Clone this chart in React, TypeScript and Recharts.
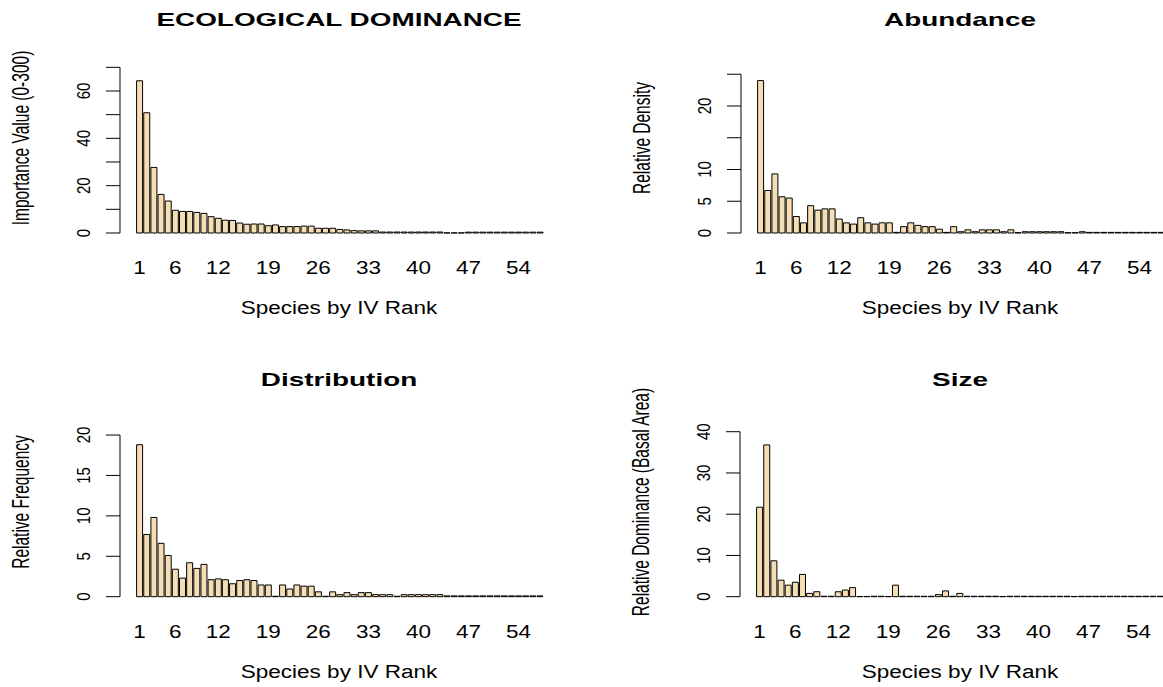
import React from "react";
import { BarChart, Bar, XAxis, YAxis } from "recharts";

// species rank, 1 = highest importance value
const RANKS = [
  "1", "2", "3", "4", "5", "6", "7", "8", "9", "10",
  "11", "12", "13", "14", "15", "16", "17", "18", "19", "20",
  "21", "22", "23", "24", "25", "26", "27", "28", "29", "30",
  "31", "32", "33", "34", "35", "36", "37", "38", "39", "40",
  "41", "42", "43", "44", "45", "46", "47", "48", "49", "50",
  "51", "52", "53", "54", "55", "56", "57",
];
const RANK_TICKS = ["1", "6", "12", "19", "26", "33", "40", "47", "54"];

const IMPORTANCE_VALUE = [
  64.3, 50.8, 27.7, 16.3, 13.5, 9.6, 9.1, 9.1, 8.7, 8.3,
  6.9, 6.2, 5.4, 5.3, 4.2, 3.7, 3.8, 3.8, 3.1, 3.4,
  2.7, 2.7, 2.7, 2.9, 2.9, 2.0, 2.0, 2.0, 1.5, 1.3,
  1.0, 0.9, 0.9, 0.9, 0.4, 0.4, 0.4, 0.4, 0.4, 0.4,
  0.4, 0.4, 0.4, 0.05, 0.05, 0.05, 0.35, 0.35, 0.35, 0.35,
  0.35, 0.35, 0.35, 0.35, 0.35, 0.35, 0.35,
];
const RELATIVE_DENSITY = [
  24.0, 6.7, 9.3, 5.7, 5.5, 2.6, 1.6, 4.3, 3.6, 3.8,
  3.8, 2.2, 1.6, 1.4, 2.4, 1.6, 1.4, 1.6, 1.6, 0.1,
  1.0, 1.6, 1.2, 1.0, 1.0, 0.6, 0.1, 1.0, 0.2, 0.5,
  0.2, 0.5, 0.5, 0.5, 0.2, 0.5, 0.05, 0.2, 0.2, 0.2,
  0.2, 0.2, 0.2, 0.05, 0.05, 0.2, 0.1, 0.1, 0.1, 0.1,
  0.1, 0.1, 0.1, 0.1, 0.1, 0.1, 0.1,
];
const RELATIVE_FREQUENCY = [
  18.8, 7.7, 9.8, 6.6, 5.1, 3.4, 2.3, 4.2, 3.5, 4.0,
  2.1, 2.2, 2.1, 1.6, 2.0, 2.1, 2.0, 1.45, 1.45, 0.05,
  1.45, 0.95, 1.45, 1.3, 1.3, 0.6, 0.05, 0.6, 0.25, 0.5,
  0.25, 0.5, 0.5, 0.25, 0.25, 0.25, 0.05, 0.25, 0.25, 0.25,
  0.25, 0.25, 0.25, 0.1, 0.1, 0.1, 0.1, 0.1, 0.1, 0.1,
  0.1, 0.1, 0.1, 0.1, 0.1, 0.1, 0.1,
];
const RELATIVE_DOMINANCE = [
  21.7, 36.8, 8.7, 4.0, 2.8, 3.5, 5.4, 0.8, 1.2, 0.1,
  0.1, 1.2, 1.6, 2.2, 0.05, 0.05, 0.1, 0.1, 0.05, 2.8,
  0.1, 0.1, 0.1, 0.1, 0.1, 0.5, 1.4, 0.1, 0.8, 0.1,
  0.1, 0.1, 0.1, 0.1, 0.05, 0.1, 0.1, 0.1, 0.1, 0.1,
  0.1, 0.1, 0.1, 0.1, 0.05, 0.1, 0.1, 0.1, 0.1, 0.1,
  0.1, 0.1, 0.1, 0.1, 0.1, 0.1, 0.1,
];

const IV_TICKS = [0, 10, 20, 30, 40, 50, 60, 70];
const IV_LABELS = [0, 20, 40, 60];
const DENSITY_TICKS = [0, 5, 10, 15, 20, 25];
const DENSITY_LABELS = [0, 5, 10, 20];
const FREQUENCY_TICKS = [0, 5, 10, 15, 20];
const DOMINANCE_TICKS = [0, 10, 20, 30, 40];

const FONT = '"Liberation Sans", Arial, Helvetica, sans-serif';
const BAR_FILL = "#F5DEB3";
const PLOT_W = 407.6;
const Y_AXIS_W = 150;
const X_AXIS_H = 90;
const AXIS_GAP = 16;
const TICK_LEN = 14;

type PanelProps = {
  title: string;
  yLabel: string;
  values: number[];
  ticks: number[];
  labels: number[];
  domainMax: number;
  plotLeft: number;
  plotTop: number;
  plotHeight: number;
};

function Panel({
  title,
  yLabel,
  values,
  ticks,
  labels,
  domainMax,
  plotLeft,
  plotTop,
  plotHeight,
}: PanelProps) {
  const data = RANKS.map((rank, i) => ({ rank, value: values[i] }));
  const spanPx = (ticks[ticks.length - 1] / domainMax) * plotHeight;
  const axisX = plotLeft - AXIS_GAP;
  const centerX = axisX + 219.5;
  const zeroY = plotTop + plotHeight;

  const renderYTick = (props: any) => {
    const { x, y, payload } = props;
    const ax = x - AXIS_GAP;
    return (
      <g>
        <line x1={ax - TICK_LEN} y1={y} x2={ax} y2={y} stroke="#000" />
        {payload.value === 0 && (
          <line x1={ax} y1={y} x2={ax} y2={y - spanPx} stroke="#000" />
        )}
        {labels.includes(payload.value) && (
          <text
            transform={`translate(${ax - 36},${y}) rotate(-90) scale(1,1.24)`}
            textAnchor="middle"
            dominantBaseline="central"
            fontSize={15}
            fontFamily={FONT}
            fill="#000"
          >
            {payload.value}
          </text>
        )}
      </g>
    );
  };

  const renderXTick = (props: any) => {
    const { x, y, payload } = props;
    return (
      <text
        transform={`translate(${x},${y + 35}) scale(1.25,1)`}
        textAnchor="middle"
        dominantBaseline="central"
        fontSize={18}
        fontFamily={FONT}
        fill="#000"
      >
        {payload.value}
      </text>
    );
  };

  const textBase: React.CSSProperties = {
    position: "absolute",
    whiteSpace: "nowrap",
    lineHeight: 1,
    fontFamily: FONT,
    color: "#000",
  };

  return (
    <>
      <div style={{ position: "absolute", left: plotLeft - Y_AXIS_W, top: plotTop }}>
        <BarChart
          width={Y_AXIS_W + PLOT_W}
          height={plotHeight + X_AXIS_H}
          data={data}
          margin={{ top: 0, right: 0, bottom: 0, left: 0 }}
          barCategoryGap="8.3%"
        >
          <XAxis
            dataKey="rank"
            type="category"
            ticks={RANK_TICKS}
            interval={0}
            tickLine={false}
            axisLine={false}
            tickSize={0}
            tickMargin={0}
            height={X_AXIS_H}
            tick={renderXTick}
          />
          <YAxis
            type="number"
            domain={[0, domainMax]}
            ticks={ticks}
            interval={0}
            width={Y_AXIS_W}
            tickLine={false}
            axisLine={false}
            tickSize={0}
            tickMargin={0}
            tick={renderYTick}
          />
          <Bar
            dataKey="value"
            fill={BAR_FILL}
            stroke="#000"
            strokeWidth={1}
            isAnimationActive={false}
          />
        </BarChart>
      </div>
      <div
        style={{
          ...textBase,
          left: centerX,
          top: plotTop - 40,
          fontSize: 18.6,
          fontWeight: "bold",
          transform: "translate(-50%, -50%) scaleX(1.5)",
        }}
      >
        {title}
      </div>
      <div
        style={{
          ...textBase,
          left: centerX,
          top: zeroY + 75,
          fontSize: 18,
          transform: "translate(-50%, -50%) scaleX(1.25)",
        }}
      >
        Species by IV Rank
      </div>
      <div
        style={{
          ...textBase,
          left: axisX - 99,
          top: zeroY - 95,
          fontSize: 15.5,
          transform: "translate(-50%, -50%) rotate(-90deg) scaleY(1.5)",
        }}
      >
        {yLabel}
      </div>
    </>
  );
}

export default function App() {
  return (
    <div
      style={{
        position: "absolute",
        left: 0,
        top: 0,
        width: 1163,
        height: 687,
        overflow: "hidden",
        background: "#fff",
      }}
    >
      <Panel
        title="ECOLOGICAL DOMINANCE"
        yLabel="Importance Value (0-300)"
        values={IMPORTANCE_VALUE}
        ticks={IV_TICKS}
        labels={IV_LABELS}
        domainMax={73.09}
        plotLeft={135.9}
        plotTop={60}
        plotHeight={173}
      />
      <Panel
        title="Abundance"
        yLabel="Relative Density"
        values={RELATIVE_DENSITY}
        ticks={DENSITY_TICKS}
        labels={DENSITY_LABELS}
        domainMax={27.24}
        plotLeft={756.9}
        plotTop={60}
        plotHeight={173}
      />
      <Panel
        title="Distribution"
        yLabel="Relative Frequency"
        values={RELATIVE_FREQUENCY}
        ticks={FREQUENCY_TICKS}
        labels={FREQUENCY_TICKS}
        domainMax={21.86}
        plotLeft={135.7}
        plotTop={420}
        plotHeight={176.7}
      />
      <Panel
        title="Size"
        yLabel="Relative Dominance (Basal Area)"
        values={RELATIVE_DOMINANCE}
        ticks={DOMINANCE_TICKS}
        labels={DOMINANCE_TICKS}
        domainMax={42.84}
        plotLeft={756.4}
        plotTop={420}
        plotHeight={176.7}
      />
    </div>
  );
}
